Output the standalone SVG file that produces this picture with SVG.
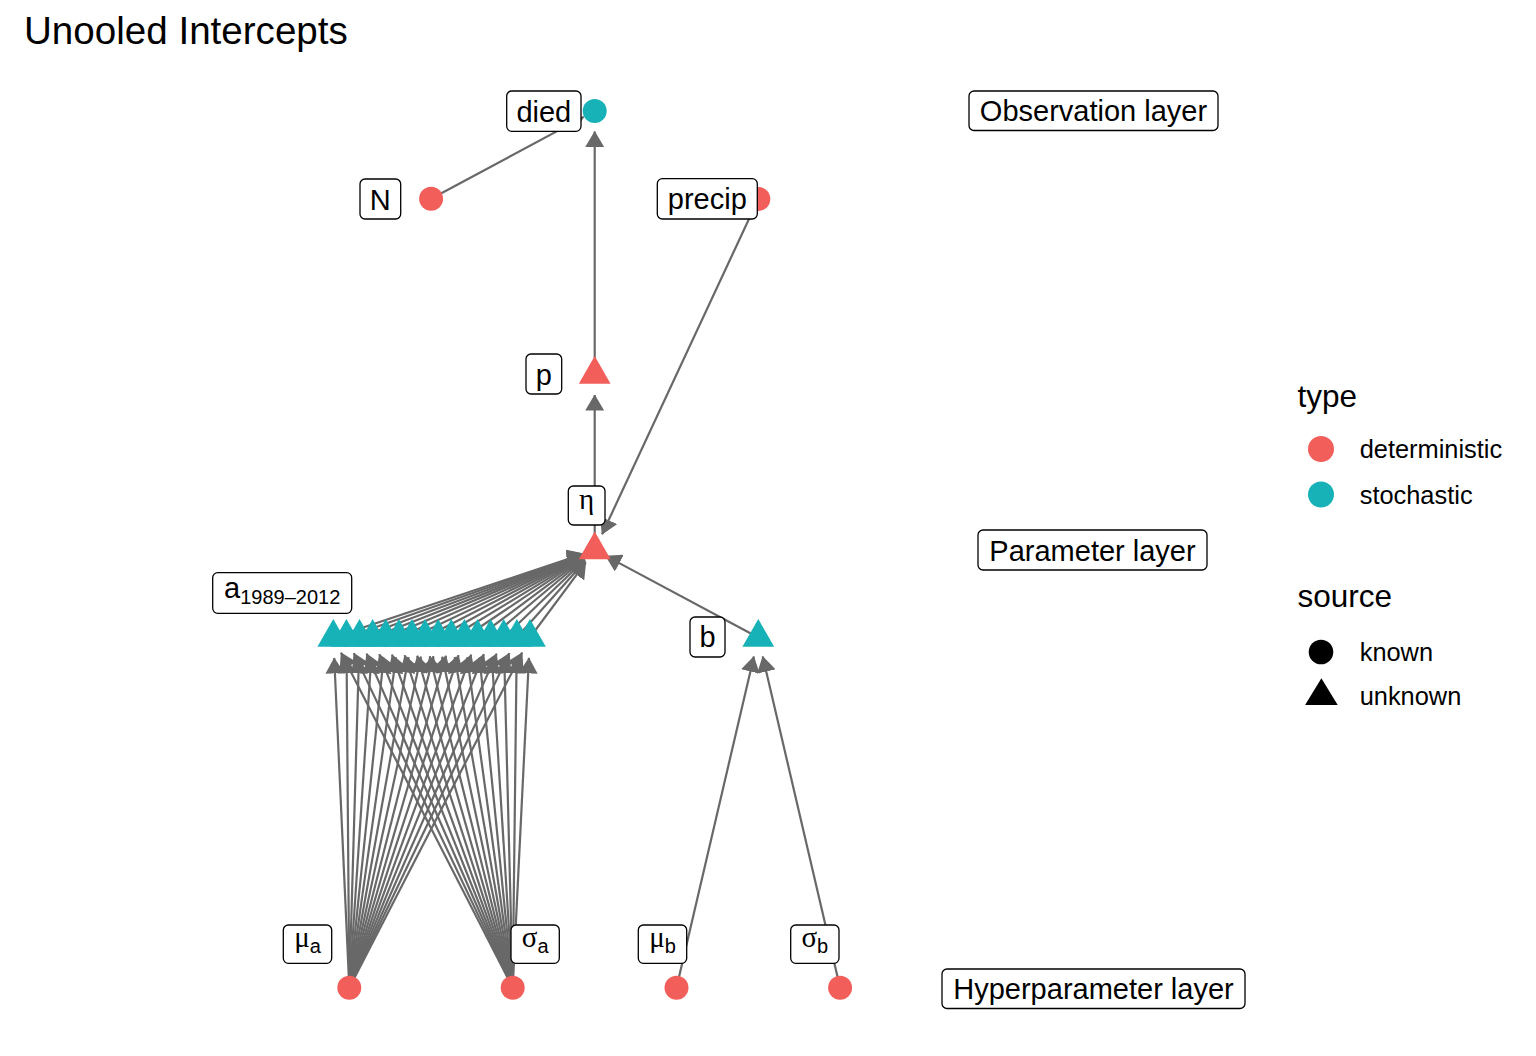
<svg xmlns="http://www.w3.org/2000/svg" xmlns:xlink="http://www.w3.org/1999/xlink" width="1536" height="1056" viewBox="0 0 1536 1056">
<style>
.bg{fill:#ffffff}
.edge{stroke:#686868;stroke-width:2.2;fill:none;marker-end:url(#arrow)}
.det{fill:#F25E5A}
.sto{fill:#17B2B8}
.box{fill:#ffffff;stroke:#000000;stroke-width:1.3}
.lbl{font-family:"Liberation Sans",Arial,sans-serif;font-size:29px;fill:#000;text-anchor:middle}
.gr{font-family:"Liberation Serif","Times New Roman",serif}
.sub{font-size:20px}
.title{font-family:"Liberation Sans",Arial,sans-serif;font-size:38.6px;fill:#000}
.lgt{font-family:"Liberation Sans",Arial,sans-serif;font-size:31.5px;fill:#000}
.lgx{font-family:"Liberation Sans",Arial,sans-serif;font-size:25.4px;fill:#000}
</style>
<defs>
<marker id="arrow" markerUnits="userSpaceOnUse" markerWidth="16" markerHeight="19" viewBox="0 0 16 19" refX="15.5" refY="9.5" orient="auto">
<path d="M0,0 L16,9.5 L0,19 Z" fill="#686868"/>
</marker>
<path id="tri" d="M0,-18.4 L15.9,9.2 L-15.9,9.2 Z"/>
</defs>
<rect class="bg" x="0" y="0" width="1536" height="1056"/>
<text class="title" x="24" y="44">Unooled Intercepts</text>

<g id="edges">
<line class="edge" x1="594.7" y1="374.5" x2="594.7" y2="131.5"/>
<line class="edge" x1="594.7" y1="550" x2="594.7" y2="395"/>
<line class="edge" x1="431.1" y1="198.7" x2="583.69" y2="116.9"/>
<line class="edge" x1="758.3" y1="199" x2="602.05" y2="534.23"/>
<line class="edge" x1="758.3" y1="637.5" x2="605.7" y2="555.89"/>
<line class="edge" x1="676.5" y1="987.7" x2="753.89" y2="656.43"/>
<line class="edge" x1="840.1" y1="987.7" x2="762.72" y2="656.43"/>
<line class="edge" x1="333.3" y1="637.5" x2="583.69" y2="553.78"/>
<line class="edge" x1="346.41" y1="637.5" x2="583.72" y2="553.97"/>
<line class="edge" x1="359.52" y1="637.5" x2="583.74" y2="554.18"/>
<line class="edge" x1="372.63" y1="637.5" x2="583.77" y2="554.42"/>
<line class="edge" x1="385.74" y1="637.5" x2="583.80" y2="554.68"/>
<line class="edge" x1="398.85" y1="637.5" x2="583.84" y2="554.98"/>
<line class="edge" x1="411.96" y1="637.5" x2="583.89" y2="555.31"/>
<line class="edge" x1="425.07" y1="637.5" x2="583.95" y2="555.69"/>
<line class="edge" x1="438.18" y1="637.5" x2="584.02" y2="556.12"/>
<line class="edge" x1="451.29" y1="637.5" x2="584.12" y2="556.63"/>
<line class="edge" x1="464.40" y1="637.5" x2="584.23" y2="557.21"/>
<line class="edge" x1="477.51" y1="637.5" x2="584.39" y2="557.90"/>
<line class="edge" x1="490.62" y1="637.5" x2="584.59" y2="558.72"/>
<line class="edge" x1="503.73" y1="637.5" x2="584.87" y2="559.71"/>
<line class="edge" x1="516.84" y1="637.5" x2="585.26" y2="560.91"/>
<line class="edge" x1="529.95" y1="637.5" x2="585.82" y2="562.35"/>
<line class="edge" x1="349.3" y1="987.7" x2="334.23" y2="657.93"/>
<line class="edge" x1="349.3" y1="987.7" x2="346.58" y2="658.0"/>
<line class="edge" x1="349.3" y1="987.7" x2="358.92" y2="657.97"/>
<line class="edge" x1="349.3" y1="987.7" x2="371.27" y2="657.86"/>
<line class="edge" x1="349.3" y1="987.7" x2="383.64" y2="657.66"/>
<line class="edge" x1="349.3" y1="987.7" x2="396.04" y2="657.38"/>
<line class="edge" x1="349.3" y1="987.7" x2="408.47" y2="657.03"/>
<line class="edge" x1="349.3" y1="987.7" x2="420.93" y2="656.63"/>
<line class="edge" x1="349.3" y1="987.7" x2="433.44" y2="656.18"/>
<line class="edge" x1="349.3" y1="987.7" x2="445.99" y2="655.69"/>
<line class="edge" x1="349.3" y1="987.7" x2="458.59" y2="655.19"/>
<line class="edge" x1="349.3" y1="987.7" x2="471.23" y2="654.67"/>
<line class="edge" x1="349.3" y1="987.7" x2="483.90" y2="654.15"/>
<line class="edge" x1="349.3" y1="987.7" x2="496.62" y2="653.61"/>
<line class="edge" x1="349.3" y1="987.7" x2="509.38" y2="653.10"/>
<line class="edge" x1="349.3" y1="987.7" x2="522.17" y2="652.59"/>
<line class="edge" x1="512.7" y1="987.7" x2="341.05" y2="652.64"/>
<line class="edge" x1="512.7" y1="987.7" x2="353.84" y2="653.15"/>
<line class="edge" x1="512.7" y1="987.7" x2="366.59" y2="653.67"/>
<line class="edge" x1="512.7" y1="987.7" x2="379.31" y2="654.19"/>
<line class="edge" x1="512.7" y1="987.7" x2="391.98" y2="654.72"/>
<line class="edge" x1="512.7" y1="987.7" x2="404.62" y2="655.24"/>
<line class="edge" x1="512.7" y1="987.7" x2="417.21" y2="655.74"/>
<line class="edge" x1="512.7" y1="987.7" x2="429.75" y2="656.22"/>
<line class="edge" x1="512.7" y1="987.7" x2="442.26" y2="656.67"/>
<line class="edge" x1="512.7" y1="987.7" x2="454.72" y2="657.06"/>
<line class="edge" x1="512.7" y1="987.7" x2="467.15" y2="657.41"/>
<line class="edge" x1="512.7" y1="987.7" x2="479.54" y2="657.68"/>
<line class="edge" x1="512.7" y1="987.7" x2="491.90" y2="657.87"/>
<line class="edge" x1="512.7" y1="987.7" x2="504.25" y2="657.98"/>
<line class="edge" x1="512.7" y1="987.7" x2="516.60" y2="658.0"/>
<line class="edge" x1="512.7" y1="987.7" x2="528.94" y2="657.91"/>
</g>

<g id="node-died">
<circle class="sto" cx="594.7" cy="111" r="12"/>
<rect class="box" x="506.7" y="91" width="74.3" height="40.3" rx="5"/>
<text class="lbl" x="543.85" y="121.5">died</text>
</g>
<g id="node-N">
<circle class="det" cx="431.1" cy="198.7" r="12"/>
<rect class="box" x="360" y="179" width="40.7" height="40" rx="5"/>
<text class="lbl" x="380.35" y="209.5">N</text>
</g>
<g id="node-precip">
<circle class="det" cx="758.3" cy="199" r="12"/>
<rect class="box" x="657.3" y="178.7" width="100" height="40.3" rx="5"/>
<text class="lbl" x="707.3" y="209.4">precip</text>
</g>
<g id="node-p">
<use href="#tri" class="det" x="594.7" y="374.5"/>
<rect class="box" x="526" y="354" width="35.7" height="40" rx="5"/>
<text class="lbl" x="543.85" y="384.5">p</text>
</g>
<g id="node-eta">
<use href="#tri" class="det" x="594.7" y="550"/>
<rect class="box" x="568.3" y="486" width="36.7" height="39" rx="5"/>
<text class="lbl gr" x="586.65" y="508.5">η</text>
</g>
<g id="node-a">
<use href="#tri" class="sto" x="333.3" y="637.5"/>
<use href="#tri" class="sto" x="346.41" y="637.5"/>
<use href="#tri" class="sto" x="359.52" y="637.5"/>
<use href="#tri" class="sto" x="372.63" y="637.5"/>
<use href="#tri" class="sto" x="385.74" y="637.5"/>
<use href="#tri" class="sto" x="398.85" y="637.5"/>
<use href="#tri" class="sto" x="411.96" y="637.5"/>
<use href="#tri" class="sto" x="425.07" y="637.5"/>
<use href="#tri" class="sto" x="438.18" y="637.5"/>
<use href="#tri" class="sto" x="451.29" y="637.5"/>
<use href="#tri" class="sto" x="464.40" y="637.5"/>
<use href="#tri" class="sto" x="477.51" y="637.5"/>
<use href="#tri" class="sto" x="490.62" y="637.5"/>
<use href="#tri" class="sto" x="503.73" y="637.5"/>
<use href="#tri" class="sto" x="516.84" y="637.5"/>
<use href="#tri" class="sto" x="529.95" y="637.5"/>
<rect class="box" x="212.7" y="572.7" width="139" height="40.6" rx="5"/>
<text class="lbl" x="282.2" y="598">a<tspan class="sub" dy="6">1989–2012</tspan></text>
</g>
<g id="node-b">
<use href="#tri" class="sto" x="758.3" y="637.5"/>
<rect class="box" x="690" y="617" width="35" height="40" rx="5"/>
<text class="lbl" x="707.5" y="647.2">b</text>
</g>
<g id="node-mu_a">
<circle class="det" cx="349.3" cy="987.7" r="12"/>
<rect class="box" x="283.3" y="925" width="48.4" height="38.3" rx="5"/>
<text class="lbl" x="307.5" y="947.2"><tspan class="gr">μ</tspan><tspan class="sub" dy="6">a</tspan></text>
</g>
<g id="node-sigma_a">
<circle class="det" cx="512.7" cy="987.7" r="12"/>
<rect class="box" x="511" y="925" width="48.3" height="38.3" rx="5"/>
<text class="lbl" x="535.15" y="947.2"><tspan class="gr">σ</tspan><tspan class="sub" dy="6">a</tspan></text>
</g>
<g id="node-mu_b">
<circle class="det" cx="676.5" cy="987.7" r="12"/>
<rect class="box" x="638.3" y="925" width="48.4" height="38.3" rx="5"/>
<text class="lbl" x="662.5" y="947.2"><tspan class="gr">μ</tspan><tspan class="sub" dy="6">b</tspan></text>
</g>
<g id="node-sigma_b">
<circle class="det" cx="840.1" cy="987.7" r="12"/>
<rect class="box" x="790.7" y="925" width="48.3" height="38.3" rx="5"/>
<text class="lbl" x="814.85" y="947.2"><tspan class="gr">σ</tspan><tspan class="sub" dy="6">b</tspan></text>
</g>

<g id="layer-labels">
<rect class="box" x="969" y="91" width="249" height="39.5" rx="5"/>
<text class="lbl" x="1093.5" y="121">Observation layer</text>
<rect class="box" x="978" y="530" width="229" height="40" rx="5"/>
<text class="lbl" x="1092.5" y="560.5">Parameter layer</text>
<rect class="box" x="942" y="969" width="303" height="39.5" rx="5"/>
<text class="lbl" x="1093.5" y="999">Hyperparameter layer</text>
</g>

<g id="legend">
<text class="lgt" x="1297.5" y="406.5">type</text>
<circle class="det" cx="1321" cy="449" r="13"/>
<text class="lgx" x="1359.7" y="458.3">deterministic</text>
<circle class="sto" cx="1321" cy="494.5" r="13"/>
<text class="lgx" x="1359.7" y="504.3">stochastic</text>
<text class="lgt" x="1297.5" y="607.3">source</text>
<circle fill="#000" cx="1321" cy="652" r="12.3"/>
<text class="lgx" x="1359.7" y="660.5">known</text>
<polygon fill="#000" points="1321.4,678.3 1337.7,705 1305.1,705"/>
<text class="lgx" x="1359.7" y="705">unknown</text>
</g>
</svg>
